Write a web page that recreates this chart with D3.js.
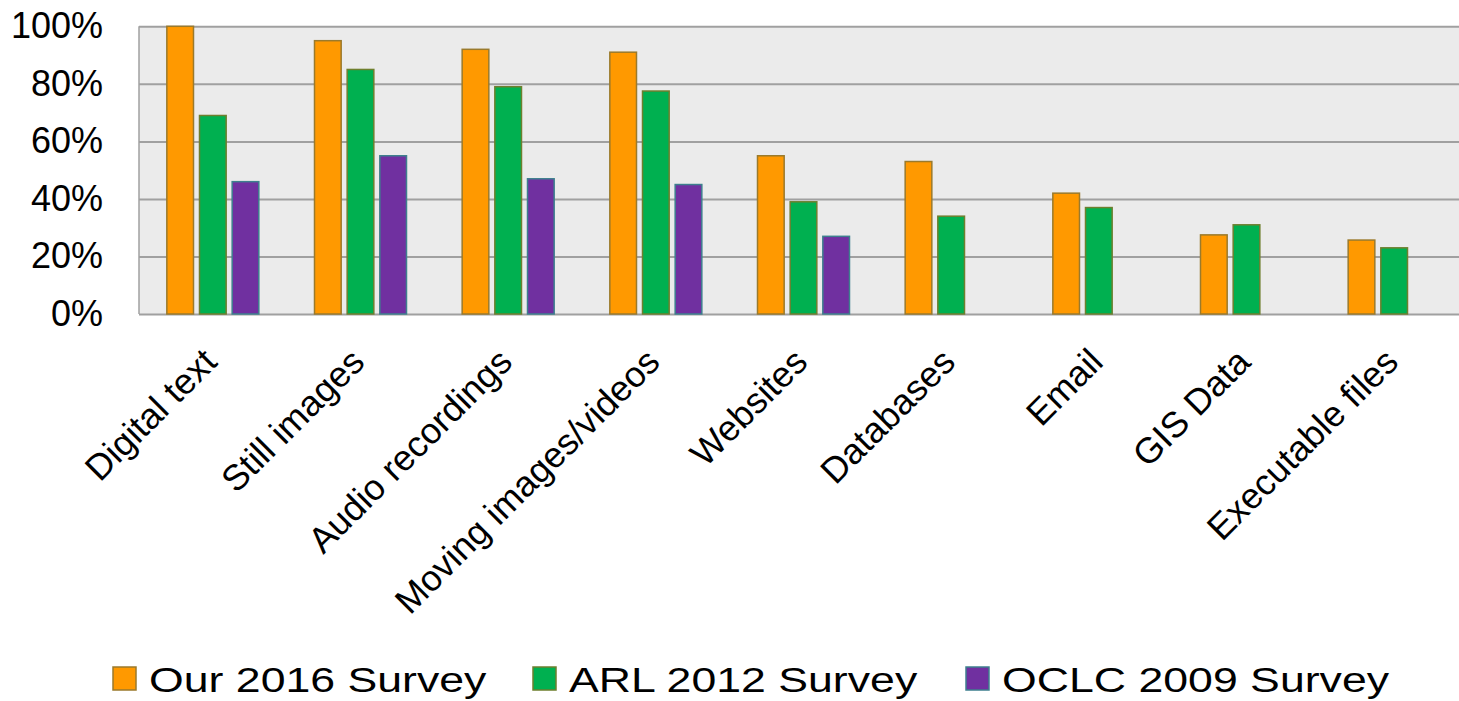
<!DOCTYPE html>
<html>
<head>
<meta charset="utf-8">
<script src="https://cdn.jsdelivr.net/npm/d3@7"></script>
<style>
  html, body { margin: 0; padding: 0; background: #ffffff; overflow: hidden; }
  svg { display: block; font-family: "Liberation Sans", Arial, sans-serif; }
</style>
</head>
<body>
<svg id="chart" width="1459" height="701"></svg>
<script>
// Content types preserved, by survey
const categories = ["Digital text", "Still images", "Audio recordings", "Moving images/videos",
                    "Websites", "Databases", "Email", "GIS Data", "Executable files"];
const seriesNames = ["Our 2016 Survey", "ARL 2012 Survey", "OCLC 2009 Survey"];
const our2016  = [100, 95, 92, 91, 55, 53, 42, 27.5, 25.7];
const arl2012  = [69, 85, 79, 77.5, 39, 34, 37, 31, 23];
const oclc2009 = [46, 55, 47, 45, 27, null, null, null, null];
const yTicks = [0, 20, 40, 60, 80, 100];

const seriesValues = [our2016, arl2012, oclc2009];
const fills   = ["#FF9900", "#00B050", "#7030A0"];
const strokes = ["#9A7A2C", "#6E7F2E", "#3E7F8E"];

const svg = d3.select("#chart");
const plot = { left: 139, right: 1468, top: 26.3, bottom: 314 };

const x0 = d3.scaleBand().domain(categories).range([plot.left, plot.right]).padding(0);
const groupW = 98;
const x1 = d3.scaleBand().domain(seriesNames).range([0, groupW])
  .paddingInner(0.1837).paddingOuter(0.0918);
const y = d3.scaleLinear().domain([0, 100]).range([plot.bottom, plot.top]);

// plot background
svg.append("rect")
  .attr("x", plot.left).attr("y", plot.top)
  .attr("width", plot.right - plot.left).attr("height", plot.bottom - plot.top)
  .attr("fill", "#EBEBEB");

// horizontal gridlines
svg.append("g")
  .attr("transform", `translate(${plot.left},0)`)
  .call(d3.axisLeft(y).tickValues(yTicks).tickSize(-(plot.right - plot.left)).tickFormat(""))
  .call(g => g.select(".domain").remove())
  .call(g => g.selectAll("line").attr("stroke", "#A0A0A0").attr("stroke-width", 2));

// left plot border
svg.append("line")
  .attr("x1", plot.left).attr("x2", plot.left)
  .attr("y1", plot.top).attr("y2", plot.bottom)
  .attr("stroke", "#A0A0A0").attr("stroke-width", 1.5);

// bars
const rows = [];
categories.forEach((c, i) => {
  seriesNames.forEach((s, j) => {
    const v = seriesValues[j][i];
    if (v != null) rows.push({ c, s, j, v });
  });
});

svg.append("g").selectAll("rect")
  .data(rows)
  .join("rect")
  .attr("x", d => x0(d.c) + x0.bandwidth() / 2 - groupW / 2 + x1(d.s))
  .attr("y", d => y(d.v))
  .attr("width", x1.bandwidth())
  .attr("height", d => y(0) - y(d.v))
  .attr("fill", d => fills[d.j])
  .attr("stroke", d => strokes[d.j])
  .attr("stroke-width", 1.5);

// y axis labels
svg.append("g")
  .attr("transform", `translate(${plot.left},0)`)
  .call(d3.axisLeft(y).tickValues(yTicks).tickSize(0).tickPadding(36).tickFormat(d => d + "%"))
  .call(g => g.select(".domain").remove())
  .call(g => g.selectAll("text")
    .attr("font-size", 36)
    .attr("fill", "#000")
    .attr("font-family", "'Liberation Sans', Arial, sans-serif"));

// category labels, rotated
svg.append("g").selectAll("text")
  .data(categories)
  .join("text")
  .attr("transform", d => `translate(${x0(d) + x0.bandwidth() / 2 + 6},${364}) rotate(-45)`)
  .attr("text-anchor", "end")
  .attr("font-size", 36)
  .attr("fill", "#000")
  .text(d => d);

// legend (text drawn horizontally widened)
const legendX = [113, 533, 966];
const legend = svg.append("g");
seriesNames.forEach((s, j) => {
  legend.append("rect")
    .attr("x", legendX[j]).attr("y", 667)
    .attr("width", 23).attr("height", 23)
    .attr("fill", fills[j])
    .attr("stroke", strokes[j]).attr("stroke-width", 1.5);
  legend.append("text")
    .attr("transform", `translate(${legendX[j] + 36},691.5) scale(1.24,1)`)
    .attr("font-size", 36)
    .attr("fill", "#000")
    .text(s);
});
</script>
</body>
</html>
